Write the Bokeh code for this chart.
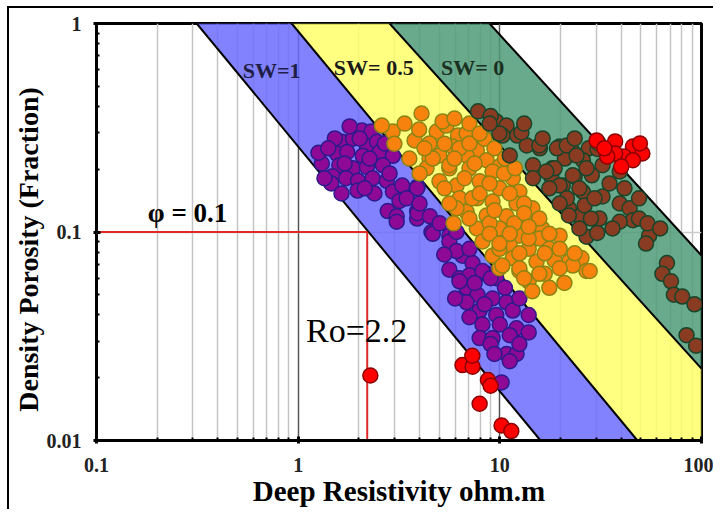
from bokeh.plotting import figure
from bokeh.models import FixedTicker, Label, Range1d
from bokeh.embed import file_html
from bokeh.resources import INLINE
import numpy as np

# ---------------- data ----------------
x_ticks = [0.1, 1, 10, 100]
x_tick_labels = ["0.1", "1", "10", "100"]
y_ticks = [0.01, 0.1, 1]
y_tick_labels = ["0.01", "0.1", "1"]
x_minor = [0.2, 0.3, 0.4, 0.5, 0.6, 0.7, 0.8, 0.9, 2, 3, 4, 5, 6, 7, 8, 9,
           20, 30, 40, 50, 60, 70, 80, 90]
y_minor = [0.02, 0.03, 0.04, 0.05, 0.06, 0.07, 0.08, 0.09,
           0.2, 0.3, 0.4, 0.5, 0.6, 0.7, 0.8, 0.9]

# band boundary lines: two anchor points (R, phi) each
line_a = [(0.314, 1.0), (15.9, 0.01)]     # SW=1 left
line_b = [(0.929, 1.0), (48.1, 0.01)]     # SW=1 right / SW=0.5 left
line_c = [(2.84, 1.0), (100.0, 0.0221)]   # SW=0.5 right / SW=0 left
line_d = [(8.89, 1.0), (100.0, 0.0771)]   # SW=0 right

purple_r = [2.07, 2.31, 1.65, 1.87, 2.19, 2.46, 1.56, 1.75, 2.09, 2.54, 2.95, 1.60, 1.87,
            2.19, 2.63, 1.48, 1.73, 1.98, 2.34, 2.75, 1.97, 2.95, 3.45, 3.91, 3.18, 2.78,
            3.08, 3.89, 4.58, 5.62, 1.46, 1.31, 1.35, 1.26,
            3.08, 3.89, 4.65, 5.62, 6.10, 5.62, 6.53, 7.32, 6.31, 8.60, 9.6, 6.84, 7.75,
            6.84, 9.2, 10.8, 7.94, 9.6, 11.6, 13.9, 8.2, 10.0, 12.1, 13.9, 7.94, 9.2, 11.2,
            9.0, 10.8, 12.1, 11.2, 10.2,
            3.28, 3.89, 3.45, 3.91, 6.10, 7.07, 8.2, 9.0, 6.31,
            1.52, 1.41, 1.70, 2.26, 2.69, 2.02, 1.80, 2.84, 2.39, 2.14, 1.64,
            4.0, 4.5, 5.03, 5.3, 7.07, 7.5, 10.6, 12.5, 8.4, 9.4, 12.5, 7.07, 6.0]
purple_phi = [0.307, 0.303, 0.271, 0.280, 0.259, 0.271, 0.237, 0.242, 0.232, 0.242, 0.232,
              0.209, 0.202, 0.205, 0.209, 0.185, 0.181, 0.176, 0.181, 0.176, 0.158, 0.156,
              0.150, 0.165, 0.141, 0.126, 0.119, 0.126, 0.100, 0.096, 0.171, 0.213, 0.181,
              0.240,
              0.112, 0.116, 0.098, 0.090, 0.100, 0.066, 0.077, 0.071, 0.060, 0.063, 0.060,
              0.054, 0.050, 0.046, 0.048, 0.046, 0.042, 0.040, 0.042, 0.040, 0.036, 0.036,
              0.0345, 0.033, 0.031, 0.031, 0.032, 0.029, 0.026, 0.026, 0.024, 0.019,
              0.167, 0.162, 0.145, 0.123, 0.081, 0.062, 0.065, 0.060, 0.058,
              0.281, 0.252, 0.213, 0.225, 0.266, 0.281, 0.321, 0.191, 0.153, 0.162, 0.153,
              0.137, 0.119, 0.110, 0.078, 0.083, 0.057, 0.054, 0.048, 0.045, 0.026, 0.029,
              0.039, 0.048]

orange_r = [4.09, 4.86, 5.43, 3.78, 6.2, 6.84, 7.7, 5.83, 5.02, 4.48, 6.84, 8.6, 9.95, 4.33,
            5.62, 7.07, 9.2, 11.6, 5.02, 6.10, 7.94, 9.95, 12.5, 6.31, 7.7, 9.2, 12.1, 14.5,
            6.84, 8.6, 10.8, 13.5, 16.2, 7.7, 9.95, 12.5, 15.7, 19.8, 8.2, 11.2, 13.9, 9.2,
            11.6, 15.2, 22.0, 25.4, 26.9, 12.5, 9.95,
            2.94, 2.60, 5.2, 4.65, 5.62, 7.3, 6.10,
            10.3, 12.5, 13.9, 14.5, 23.0, 27.9,
            3.98, 4.48, 6.31, 7.07, 8.4, 9.4, 10.5, 7.94, 11.2, 13.2, 5.9, 8.9, 11.8, 13.9,
            17.6, 9.95, 16.7, 18.7,
            3.37, 5.96, 7.07, 3.00, 4.23, 5.32, 7.94, 3.56, 4.0, 5.32, 6.68, 8.9, 10.6, 11.9,
            5.96, 7.5, 5.62, 7.07, 9.4, 13.2, 15.7, 17.6, 8.9, 11.2, 13.9, 9.95, 12.5, 16.7,
            19.8, 23.5, 13.2, 15.7, 19.8, 17.6, 20.9]
orange_phi = [0.370, 0.303, 0.324, 0.275, 0.290, 0.297, 0.246, 0.257, 0.233, 0.225, 0.233,
              0.221, 0.206, 0.202, 0.202, 0.202, 0.195, 0.181, 0.175, 0.167, 0.175, 0.162,
              0.156, 0.145, 0.145, 0.140, 0.137, 0.130, 0.125, 0.120, 0.119, 0.112, 0.104,
              0.104, 0.104, 0.096, 0.093, 0.096, 0.090, 0.0864, 0.083, 0.077, 0.075, 0.072,
              0.072, 0.075, 0.065, 0.065, 0.067,
              0.303, 0.324, 0.339, 0.225, 0.209, 0.145, 0.130,
              0.069, 0.067, 0.058, 0.052, 0.069, 0.065,
              0.31, 0.266, 0.252, 0.266, 0.28, 0.252, 0.191, 0.153, 0.153, 0.137, 0.110,
              0.110, 0.110, 0.093, 0.083, 0.083, 0.063, 0.073,
              0.331, 0.350, 0.331, 0.265, 0.252, 0.265, 0.297, 0.225, 0.191, 0.162, 0.181,
              0.171, 0.225, 0.202, 0.225, 0.213, 0.137, 0.116, 0.127, 0.123, 0.116, 0.098,
              0.098, 0.098, 0.106, 0.088, 0.079, 0.079, 0.083, 0.079, 0.060, 0.063, 0.067,
              0.054, 0.057]

brown_r = [15.8, 19.8, 23.0, 27.6, 18.2, 21.0, 25.8, 32.3, 39.3, 18.0, 23.5, 28.6, 20.5,
           25.8, 32.3, 39.3, 44.0, 45.7, 39.3, 31.2, 24.8, 22.0, 26.9, 24.8, 36.2, 55.0,
           53.1, 67.4, 64.0, 70.6, 73.0, 80.3, 92.3, 84.3, 94.0,
           7.80, 9.6, 10.8, 10.3, 12.2, 13.6, 15.7, 14.6, 19.2, 21.5, 18.7, 24.0, 26.9,
           23.0, 19.8, 24.8, 21.5, 26.3, 22.0, 28.3, 17.6, 14.6, 17.0, 11.2,
           9.0, 12.8, 30.5, 49.0, 54.0,
           9.95, 8.9, 13.2, 16.3, 23.5, 30.9, 35.0, 29.5, 19.8, 41.5, 49.0, 62.4, 30.4]
brown_phi = [0.252, 0.257, 0.243, 0.252, 0.202, 0.225, 0.221, 0.209, 0.195, 0.184, 0.184,
             0.187, 0.167, 0.156, 0.148, 0.137, 0.130, 0.114, 0.112, 0.116, 0.120, 0.130,
             0.095, 0.104, 0.104, 0.096, 0.088, 0.071, 0.063, 0.058, 0.050, 0.049, 0.045,
             0.032, 0.0285,
             0.379, 0.339, 0.324, 0.290, 0.290, 0.260, 0.260, 0.209, 0.252, 0.260, 0.202,
             0.233, 0.202, 0.187, 0.167, 0.162, 0.145, 0.134, 0.120, 0.116, 0.162, 0.181,
             0.195, 0.233,
             0.36, 0.30, 0.25, 0.116, 0.110,
             0.297, 0.331, 0.331, 0.281, 0.281, 0.266, 0.171, 0.145, 0.137, 0.162, 0.145,
             0.104, 0.099]

red_r = [2.28, 6.53, 7.32, 7.3, 8.73, 9.0, 7.94, 10.2, 11.4,
         30.2, 37.3, 45.7, 50.9, 41.4, 37.3, 45.7, 40.0, 34.1, 33.0, 49.5]
red_phi = [0.0205, 0.023, 0.0226, 0.0255, 0.0195, 0.0183, 0.015, 0.0118, 0.0111,
           0.275, 0.272, 0.257, 0.238, 0.230, 0.238, 0.221, 0.206, 0.230, 0.252, 0.266]

phi_cut = 0.1
ro_value = 2.2

# ---------------- figure ----------------
SERIF = "Liberation Serif"

p = figure(x_axis_type="log", y_axis_type="log",
           x_range=Range1d(0.1, 100), y_range=Range1d(0.01, 1),
           frame_width=605, frame_height=417,
           min_border_left=85, min_border_right=12, min_border_top=15, min_border_bottom=64,
           output_backend="svg", toolbar_location=None,
           background_fill_color="white", border_fill_color="white")
p.styles = {"border-left": "2px solid black", "border-top": "2px solid black",
            "margin-left": "7px", "margin-top": "6px"}


def line_at_phi(line, phi):
    (r1, f1), (r2, f2) = line
    t = (np.log10(phi) - np.log10(f1)) / (np.log10(f2) - np.log10(f1))
    return 10 ** (np.log10(r1) + t * (np.log10(r2) - np.log10(r1)))


def line_at_r(line, r):
    (r1, f1), (r2, f2) = line
    t = (np.log10(r) - np.log10(r1)) / (np.log10(r2) - np.log10(r1))
    return 10 ** (np.log10(f1) + t * (np.log10(f2) - np.log10(f1)))


fmin, fmax = 0.01, 1.0
rmax = 100.0

blue_x = [line_at_phi(line_a, fmax), line_at_phi(line_b, fmax),
          line_at_phi(line_b, fmin), line_at_phi(line_a, fmin)]
blue_y = [fmax, fmax, fmin, fmin]
yel_x = [line_at_phi(line_b, fmax), line_at_phi(line_c, fmax), rmax, rmax,
         line_at_phi(line_b, fmin)]
yel_y = [fmax, fmax, line_at_r(line_c, rmax), fmin, fmin]
grn_x = [line_at_phi(line_c, fmax), line_at_phi(line_d, fmax), rmax, rmax]
grn_y = [fmax, fmax, line_at_r(line_d, rmax), line_at_r(line_c, rmax)]

p.patch(blue_x, blue_y, fill_color="#6c6cff", fill_alpha=0.85, line_color=None)
p.patch(yel_x, yel_y, fill_color="#ffff6a", fill_alpha=0.85, line_color=None)
p.patch(grn_x, grn_y, fill_color="#4f9a78", fill_alpha=0.85, line_color=None)

for ln in (line_a, line_b):
    p.line([line_at_phi(ln, fmax), line_at_phi(ln, fmin)], [fmax, fmin],
           line_color="black", line_width=2)
for ln in (line_c, line_d):
    p.line([line_at_phi(ln, fmax), rmax], [fmax, line_at_r(ln, rmax)],
           line_color="black", line_width=2)

# reference lines
p.line([0.1, ro_value], [phi_cut, phi_cut], line_color="#e02828", line_width=2)
p.line([ro_value, ro_value], [0.01, phi_cut], line_color="#e02828", line_width=2)

# scatter
p.scatter(purple_r, purple_phi, size=15, fill_color="#8e0a96", line_color="#2c1a8c",
          line_width=1.5)
p.scatter(orange_r, orange_phi, size=15, fill_color="#f8820e", line_color="#8a8414",
          line_width=1.5)
p.scatter(brown_r, brown_phi, size=15, fill_color="#8a3c22", line_color="#17452a",
          line_width=1.5)
p.scatter(red_r, red_phi, size=15, fill_color="#ff0000", line_color="#8b0000",
          line_width=1.5)

# annotations
lab_style = dict(text_font=SERIF, text_font_style="bold", text_align="center",
                 text_baseline="middle")
p.add_layout(Label(x=0.739, y=0.595, text="SW=1", text_font_size="22px",
                   text_color="#1e1e46", **lab_style))
p.add_layout(Label(x=2.37, y=0.615, text="SW= 0.5", text_font_size="22px",
                   text_color="#1a1a1a", **lab_style))
p.add_layout(Label(x=7.33, y=0.615, text="SW= 0", text_font_size="22px",
                   text_color="#1a3020", **lab_style))
p.add_layout(Label(x=0.283, y=0.123, text="φ = 0.1", text_font_size="27px",
                   text_color="black", **lab_style))
p.add_layout(Label(x=1.95, y=0.0337, text="Ro=2.2", text_font_size="34px",
                   text_color="black", text_font=SERIF, text_align="center",
                   text_baseline="middle"))

# axes
p.xaxis.ticker = FixedTicker(ticks=x_ticks, minor_ticks=x_minor)
p.yaxis.ticker = FixedTicker(ticks=y_ticks, minor_ticks=y_minor)
p.xaxis.major_label_overrides = {t: s for t, s in zip(x_ticks, x_tick_labels)}
p.yaxis.major_label_overrides = {t: s for t, s in zip(y_ticks, y_tick_labels)}

p.xaxis.axis_label = "Deep Resistivity ohm.m"
# trailing no-break spaces move the visible title slightly below the frame centre
p.yaxis.axis_label = "Density Porosity (Fraction)" + "\u00a0" * 5
for ax in (p.xaxis, p.yaxis):
    ax.axis_label_text_font = SERIF
    ax.axis_label_text_font_style = "bold"
    ax.axis_label_text_color = "black"
    ax.major_label_text_font = SERIF
    ax.major_label_text_font_style = "bold"
    ax.major_label_text_font_size = "20px"
    ax.major_label_text_color = "#222222"
    ax.axis_line_width = 3
    ax.axis_line_color = "black"
    ax.major_tick_line_width = 3
    ax.major_tick_in = 4
    ax.major_tick_out = 3
    ax.minor_tick_line_width = 2
    ax.minor_tick_in = 3
    ax.minor_tick_out = 0
p.xaxis.axis_label_text_font_size = "29px"
p.yaxis.axis_label_text_font_size = "28px"
p.xaxis.major_label_standoff = 14
p.xaxis.axis_label_standoff = 0
p.yaxis.major_label_standoff = 12
p.yaxis.axis_label_standoff = 0
p.yaxis.major_label_orientation = "horizontal"

p.xgrid.grid_line_color = "#555555"
p.xgrid.grid_line_width = 1.5
p.xgrid.minor_grid_line_color = "#c4c4c4"
p.xgrid.minor_grid_line_width = 1.5
p.ygrid.grid_line_color = "#cccccc"
p.ygrid.grid_line_width = 1.5
p.ygrid.minor_grid_line_color = None

p.outline_line_color = "black"
p.outline_line_width = 3

open("out.html", "w").write(file_html(p, INLINE))
